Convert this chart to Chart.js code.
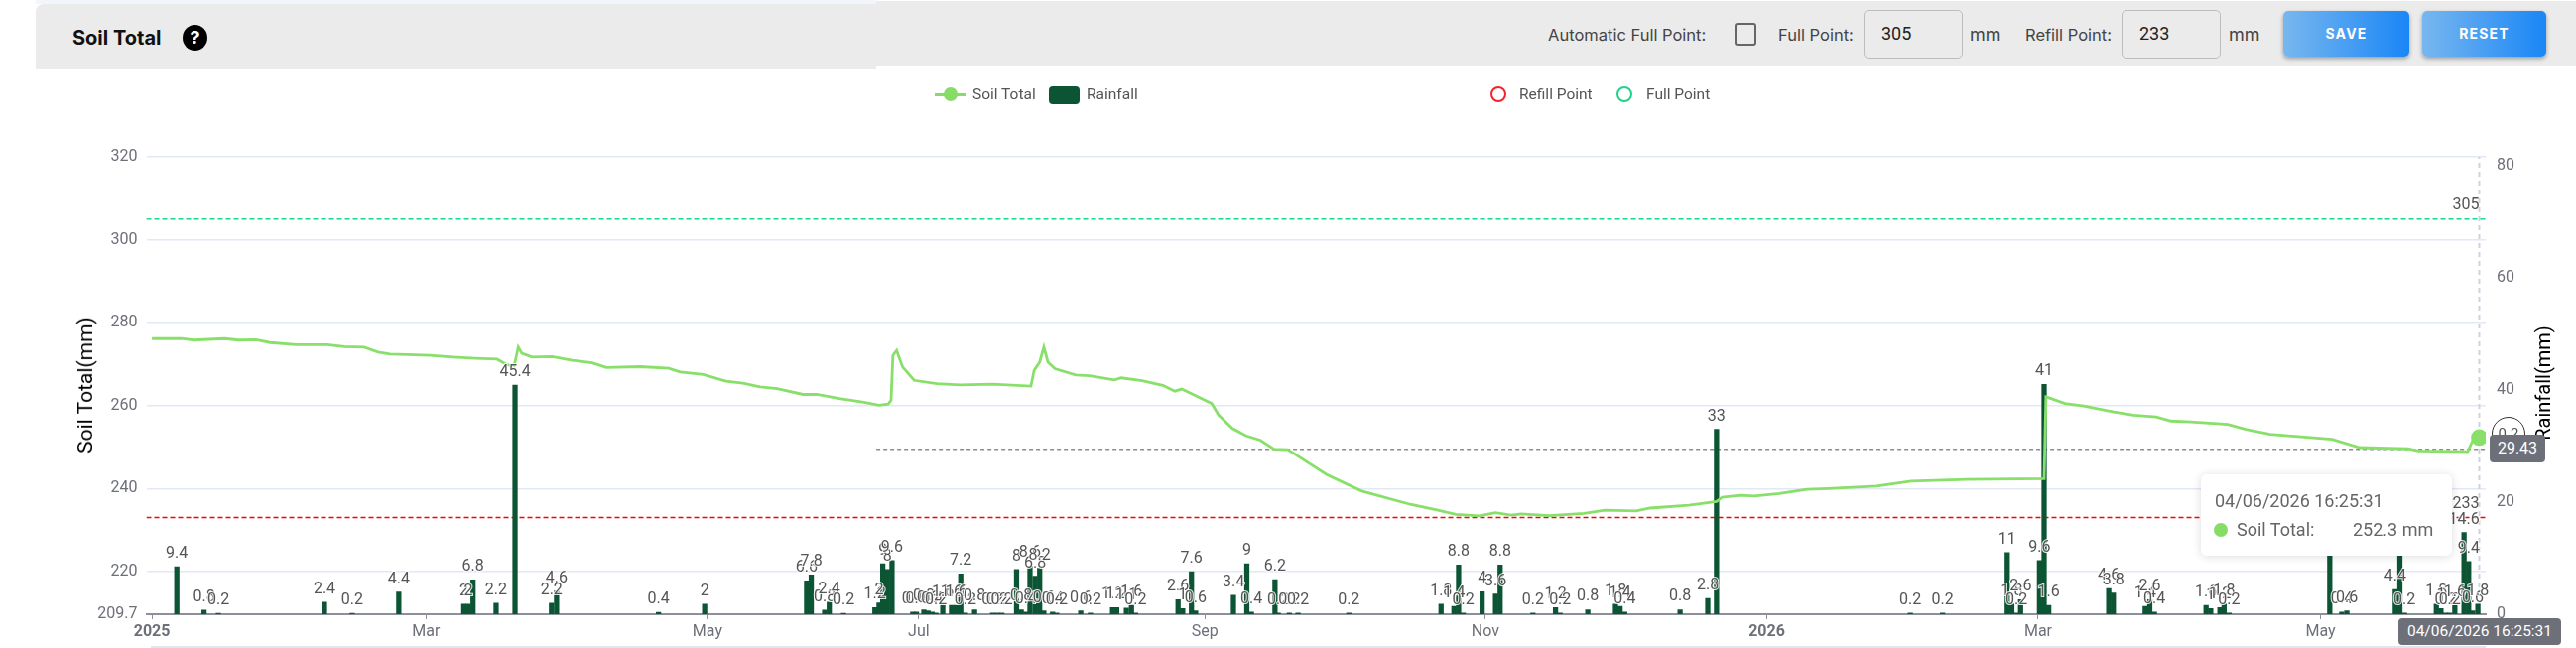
<!DOCTYPE html>
<html>
<head>
<meta charset="utf-8">
<title>Soil Total</title>
<script src="https://cdn.jsdelivr.net/npm/chart.js@4"></script>
<style>
  html, body { margin: 0; padding: 0; background: #fff; }
  #page { position: relative; width: 2596px; height: 653px; overflow: hidden; font-family: Roboto, sans-serif; color: #555; }
  #page > * { position: absolute; }
  canvas { left: 0; top: 0; }
  .ui { font-family: Inter, sans-serif; font-size: 16.5px; color: #444; line-height: 20px; white-space: nowrap; }
  .strip { background: #ebebeb; }
  .field { box-sizing: border-box; background: #ebebeb; border: 1.5px solid #bdbdbd; border-radius: 5px; width: 100px; height: 49px; top: 10px; font-size: 18px; line-height: 46px; padding-left: 17px; color: #222; }
  .btn { top: 11px; height: 46px; border-radius: 5px; background: linear-gradient(90deg, #78b7ef, #1a86f6); box-shadow: 0 2px 4px rgba(0,0,0,.35); color: #fff; font: bold 14px/46px Inter, sans-serif; letter-spacing: 1.2px; text-align: center; }
  .legend { font: 15.5px/20px Roboto, sans-serif; color: #555; top: 85px; white-space: nowrap; }
  .axis-title { font: 20px/24px Roboto, sans-serif; color: #000; white-space: nowrap; transform: translate(-50%, -50%) rotate(-90deg); }
  .ring { width: 12px; height: 12px; border-radius: 50%; border: 2.5px solid; top: 87px; }
  .badge { background: #6e7079; color: #fff; border-radius: 4px; text-align: center; }
</style>
</head>
<body>
<div id="page">
  <canvas id="soilChart" width="2596" height="653"></canvas>

  <!-- header bars -->
  <div style="left:36px;top:0;width:847px;height:4px;background:#f2f5f9"></div>
  <div class="strip" style="left:36px;top:4px;width:847px;height:66px;border-top-left-radius:8px"></div>
  <div class="strip" style="left:883px;top:1px;width:1713px;height:66px"></div>

  <div class="ui" style="left:73px;top:27px;font-size:20px;line-height:22px;font-weight:700;color:#111">Soil Total</div>
  <div style="left:184px;top:25px;width:25px;height:26px;border-radius:50%;background:#000;color:#fff;text-align:center;font:bold 18px/26px Inter,sans-serif">?</div>

  <div class="ui" style="left:1560px;top:25px">Automatic Full Point:</div>
  <div style="left:1748px;top:23px;width:18px;height:19px;border:2.5px solid #666;border-radius:3px"></div>
  <div class="ui" style="left:1792px;top:25px">Full Point:</div>
  <div class="field" style="left:1878px">305</div>
  <div class="ui" style="left:1985px;top:25px;font-size:18px">mm</div>
  <div class="ui" style="left:2041px;top:25px">Refill Point:</div>
  <div class="field" style="left:2138px">233</div>
  <div class="ui" style="left:2246px;top:25px;font-size:18px">mm</div>
  <div class="btn" style="left:2301px;width:127px">SAVE</div>
  <div class="btn" style="left:2441px;width:125px">RESET</div>

  <!-- legend -->
  <div style="left:942px;top:94px;width:31px;height:2.5px;background:#86dc66"></div>
  <div style="left:951px;top:88px;width:14px;height:14px;border-radius:50%;background:#86dc66"></div>
  <div class="legend" style="left:980px">Soil Total</div>
  <div style="left:1057px;top:87px;width:31px;height:18px;border-radius:4px;background:#0c5534"></div>
  <div class="legend" style="left:1095px">Rainfall</div>
  <div class="ring" style="left:1502px;border-color:#f5222d"></div>
  <div class="legend" style="left:1531px">Refill Point</div>
  <div class="ring" style="left:1629px;border-color:#1fd18a"></div>
  <div class="legend" style="left:1659px">Full Point</div>

  <!-- axis titles -->
  <div class="axis-title" style="left:86px;top:388px;font-size:21px">Soil Total(mm)</div>
  <div class="axis-title" style="left:2563px;top:386px">Rainfall(mm)</div>

  <!-- pointer readouts -->
  <div style="left:2511px;top:420px;width:32px;height:32px;border:1px solid #333;border-radius:50%;text-align:center;font:15px/32px Roboto,sans-serif;color:#555">0.2</div>
  <div class="badge" style="left:2509px;top:438px;width:56px;height:28px;font-size:16px;line-height:28px">29.43</div>
  <div class="badge" style="left:2417px;top:623px;width:164px;height:27px;font-size:15.5px;line-height:27px">04/06/2026 16:25:31</div>

  <!-- tooltip -->
  <div style="left:2218px;top:478px;width:253px;height:82px;background:#fff;border-radius:6px;box-shadow:0 1px 10px rgba(0,0,0,.14)"></div>
  <div style="left:2232px;top:494px;font-size:18px;line-height:22px;color:#666;white-space:nowrap">04/06/2026 16:25:31</div>
  <div style="left:2231px;top:527px;width:14px;height:14px;border-radius:50%;background:#86dc66"></div>
  <div style="left:2254px;top:523px;font-size:18px;line-height:22px;color:#666;white-space:nowrap">Soil Total:</div>
  <div style="left:2371px;top:523px;font-size:18px;line-height:22px;color:#666;white-space:nowrap">252.3 mm</div>

  <div style="left:152px;top:651px;width:2353px;height:2px;background:#e0e6f1"></div>
</div>

<script>
// x positions are days along the drawn axis
const xMin = -1.2;
const xMax = 505.8;
const xTickDays = [0, 59.4, 120.4, 166.2, 228.2, 289, 350, 408.8, 470];
const xTickLabels = ['2025', 'Mar', 'May', 'Jul', 'Sep', 'Nov', '2026', 'Mar', 'May'];

const soilTicks = [209.7, 220, 240, 260, 280, 300, 320];
const rainTicks = [0, 20, 40, 60, 80];

const fullPoint = 305;
const refillPoint = 233;
const pointerRain = 29.43;
const pointerStart = 157;
const pointerDay = 504.4;

const soilDays = [
  0, 6.45, 9.03, 15.7, 18.84, 22.6, 25.6, 31.2, 38, 41.7, 46, 49, 51.6, 55.3, 60.2, 65.2, 70.1, 74.8,
  76.9, 78.5, 78.8, 79.4, 80.2, 82.4, 86.7, 91.1, 95.4, 98.5, 105.8, 112, 114.5, 119.5, 124.4, 128.1,
  131.8, 135.5, 141.1, 144.1, 149, 154, 157.6, 159.6, 160.2, 160.6, 161.4, 162.7, 165.2, 170.1, 175.1,
  182.2, 190.5, 191.2, 192.4, 193.3, 194.2, 195.7, 200.2, 203.2, 208.6, 210.1, 214.6, 219.1, 221.7,
  223.2, 228.2, 229.7, 231.2, 234.2, 237.2, 240.2, 243.2, 246.2, 254.6, 262.2, 272.7, 278.7, 282.6,
  287.7, 291.2, 294.6, 296.8, 302.8, 310.4, 314.9, 321.7, 324.7, 333.1, 339.1, 340.3, 344.3, 347.3,
  352.7, 358.7, 363.2, 373.8, 381.3, 393.3, 410.1, 410.5, 411.6, 414.6, 418.7, 421.9, 425.2, 429.5,
  434.4, 437.6, 441.9, 449.9, 453.8, 459.1, 472.5, 478.5, 489, 491.2, 501.9, 503.2, 504.4
];
const soilValues = [
  276.15, 276.2, 275.8, 276.15, 275.8, 275.9, 275.2, 274.7, 274.7, 274.2, 274.1, 272.9, 272.4, 272.3, 272.1, 271.7, 271.4, 271.2,
  269.9, 269.5, 271, 274.1, 272.6, 271.7, 271.8, 270.9, 270.3, 269.2, 269.4, 269, 268.1, 267.5, 265.9, 265.4,
  264.5, 264.1, 262.7, 262.7, 261.7, 260.9, 260.1, 260.4, 261.3, 272.1, 273.3, 269.3, 266.1, 265.3, 265,
  265.2, 264.7, 268.5, 270.5, 274.1, 270.5, 268.9, 267.4, 267.2, 266.2, 266.7, 266, 264.9, 263.5,
  264, 261.3, 260.5, 257.7, 254.5, 252.7, 251.7, 249.5, 249.4, 243.4, 239.4, 236.2, 234.8, 233.8,
  233.4, 234.2, 233.6, 233.9, 233.5, 234, 234.8, 234.6, 235.3, 236, 236.9, 237.9, 238.4, 238.2,
  238.8, 239.8, 240, 240.6, 241.8, 242.2, 242.4, 262.1, 261.7, 260.5, 259.9, 259.2, 258.5, 257.7,
  257.3, 256.3, 256.1, 255.5, 254.3, 253.1, 251.9, 249.9, 249.6, 249.1, 248.9, 252.1, 252.3
];

// first stretch of the record, plotted against its own rainfall scale
const earlyRainDays = [5.4, 11.3, 14.4, 37.4, 43.4, 53.5, 67.6, 68.6, 69.6, 74.6, 78.7, 86.6, 87.7, 109.8, 119.8, 141.9, 142.9, 145.8, 146.8, 149.9];
const earlyRainValues = [9.4, 0.8, 0.2, 2.4, 0.2, 4.4, 2, 2, 6.8, 2.2, 45.4, 2.2, 4.6, 0.4, 2, 6.6, 7.8, 0.8, 2.4, 0.2];

const rainDays = [
  156.7, 157.6, 158.4, 159.4, 160.4, 164.9, 165.7, 167.3, 168.2, 169.1, 169.9, 171.4, 173.3, 174.3, 175.3, 176.3, 178.3,
  182.2, 183.2, 184.2, 187.4, 188.4, 189.4, 190.3, 191.4, 192.4, 193.3, 195.2, 196.1, 201.3, 203.4, 208.2, 209.1, 211.2,
  212.3, 213.2, 222.4, 223.4, 225.3, 226.2, 234.4, 237.3, 238.3, 243.4, 244.1, 246.5, 248.4, 259.4, 279.4, 282.2, 283.2,
  284.2, 288.3, 291.2, 292.2, 299.3, 304.2, 305.2, 311.2, 317.2, 318.2, 319.2, 331.2, 337.2, 339.1, 381.1, 388.1, 402.1,
  403.1, 404.1, 405, 409.1, 410.1, 411.1, 424.1, 425.1, 432, 433, 434, 445.2, 446.2, 448.2, 449.1, 450.2, 472, 474.6,
  475.7, 486.2, 487.2, 488.2, 495.1, 496.1, 497.1, 498, 499.1, 501.1, 502.1, 503, 504.1
];
const rainValues = [
  1.2, 2, 9, 8, 9.6, 0.4, 0.4, 0.8, 0.6, 0.4, 0.2, 1.6, 1.6, 1.6, 7.2, 0.2, 0.8,
  0.2, 0.2, 0.2, 8, 0.8, 0.4, 8.6, 6.8, 8.2, 0.6, 0.4, 0.2, 0.6, 0.2, 1.2, 1.2, 1.1,
  1.6, 0.2, 2.6, 1, 7.6, 0.6, 3.4, 9, 0.4, 6.2, 0.2, 0.2, 0.2, 0.2, 1.8, 1.4, 8.8,
  0.2, 4, 3.6, 8.8, 0.2, 1.2, 0.2, 0.8, 1.8, 1.4, 0.4, 0.8, 2.8, 33, 0.2, 0.2, 11,
  1.8, 0.2, 2.6, 9.6, 41, 1.6, 4.6, 3.8, 1.4, 2.6, 0.4, 1.6, 1, 1.2, 1.8, 0.2, 14, 0.4,
  0.6, 4.4, 12, 0.2, 1.8, 1, 0.2, 0.2, 1.6, 14.6, 9.4, 0.6, 1.8
];

const FONT = 'Roboto, sans-serif';
const SOIL_COLOR = '#88e06a';
const RAIN_COLOR = '#0c5534';
const TICK_COLOR = '#6e7079';

function toPoints(xs, ys) {
  return xs.map((x, i) => ({ x: x, y: ys[i] }));
}

function hLine(value) {
  return [{ x: xMin, y: value }, { x: xMax, y: value }];
}

// value text above each rainfall bar, plus the 305 / 233 line captions
const rainLabels = {
  id: 'rainLabels',
  afterDatasetsDraw(chart) {
    const ctx = chart.ctx;
    ctx.save();
    ctx.font = '16px ' + FONT;
    ctx.textAlign = 'center';
    ctx.textBaseline = 'bottom';
    ctx.fillStyle = '#555';
    ctx.strokeStyle = 'rgba(255,255,255,.85)';
    ctx.lineWidth = 2;
    chart.data.datasets.forEach((ds, i) => {
      if (ds.type !== 'bar') return;
      chart.getDatasetMeta(i).data.forEach((bar, j) => {
        const text = String(ds.data[j].y);
        ctx.strokeText(text, bar.x, bar.y - 5);
        ctx.fillText(text, bar.x, bar.y - 5);
      });
    });
    const yScale = chart.scales.ySoil;
    const right = chart.scales.x.getPixelForValue(pointerDay);
    ctx.textAlign = 'right';
    [fullPoint, refillPoint].forEach(v => {
      ctx.fillText(String(v), right, yScale.getPixelForValue(v) - 6);
    });
    ctx.restore();
  }
};

new Chart(document.getElementById('soilChart'), {
  type: 'bar',
  data: {
    datasets: [
      { type: 'line', label: 'Full Point', yAxisID: 'ySoil', data: hLine(fullPoint), borderColor: '#12dc8c', borderWidth: 1.5, borderDash: [5, 3], pointRadius: 0, order: 5 },
      { type: 'line', label: 'Refill Point', yAxisID: 'ySoil', data: hLine(refillPoint), borderColor: '#ff0000', borderWidth: 1.5, borderDash: [5, 3], pointRadius: 0, order: 5 },
      { type: 'line', label: 'pointer', yAxisID: 'yRain', data: [{ x: pointerStart, y: pointerRain }, { x: xMax, y: pointerRain }], borderColor: '#8c8c8c', borderWidth: 1.5, borderDash: [4, 3], pointRadius: 0, order: 5 },
      { type: 'line', label: 'cursor', yAxisID: 'ySoil', data: [{ x: pointerDay, y: soilTicks[0] }, { x: pointerDay, y: 320 }], borderColor: '#cfd2e2', borderWidth: 2, borderDash: [5, 4], pointRadius: 0, order: 5 },
      { type: 'bar', label: 'Rainfall', yAxisID: 'yRainEarly', data: toPoints(earlyRainDays, earlyRainValues), backgroundColor: RAIN_COLOR, barThickness: 4.6, grouped: false, order: 3 },
      { type: 'bar', label: 'Rainfall', yAxisID: 'yRain', data: toPoints(rainDays, rainValues), backgroundColor: RAIN_COLOR, barThickness: 4.6, grouped: false, order: 3 },
      {
        type: 'line', label: 'Soil Total', yAxisID: 'ySoil', data: toPoints(soilDays, soilValues),
        borderColor: SOIL_COLOR, backgroundColor: SOIL_COLOR, borderWidth: 2.8, tension: 0,
        pointRadius: ctx => (ctx.dataIndex === soilDays.length - 1 ? 7 : 0), order: 1
      }
    ]
  },
  options: {
    responsive: false,
    animation: false,
    layout: { autoPadding: false, padding: { top: 158 } },
    plugins: { legend: { display: false }, tooltip: { enabled: false } },
    scales: {
      x: {
        type: 'linear',
        min: xMin,
        max: xMax,
        offset: false,
        afterBuildTicks: s => { s.ticks = xTickDays.map(v => ({ value: v })); },
        afterFit: s => { s.height = 34; },
        border: { color: '#8e9099', width: 2 },
        grid: { offset: false, drawOnChartArea: false, tickLength: 5, tickColor: '#8e9099' },
        ticks: {
          autoSkip: false,
          maxRotation: 0,
          padding: 3,
          color: TICK_COLOR,
          font: ctx => ({ family: FONT, size: 16, weight: /^\d/.test(xTickLabels[ctx.index]) ? 'bold' : 'normal' }),
          callback: (v, i) => xTickLabels[i]
        }
      },
      ySoil: {
        position: 'left',
        min: soilTicks[0],
        max: 320,
        afterBuildTicks: s => { s.ticks = soilTicks.map(v => ({ value: v })); },
        afterFit: s => { s.width = 147.5; },
        border: { display: false },
        grid: { color: '#e3e8f5', lineWidth: 1.5, drawTicks: false },
        ticks: { padding: 9, color: TICK_COLOR, font: { family: FONT, size: 16 }, callback: v => String(v) }
      },
      yRain: {
        position: 'right',
        min: 0,
        max: 81.6,
        afterBuildTicks: s => { s.ticks = rainTicks.map(v => ({ value: v })); },
        afterFit: s => { s.width = 91; },
        border: { display: false },
        grid: { display: false, drawTicks: false },
        ticks: { padding: 11, color: TICK_COLOR, font: { family: FONT, size: 16 }, callback: v => String(v) }
      },
      yRainEarly: { display: false, min: 0, max: 90.6 }
    }
  },
  plugins: [rainLabels]
});
</script>
</body>
</html>
